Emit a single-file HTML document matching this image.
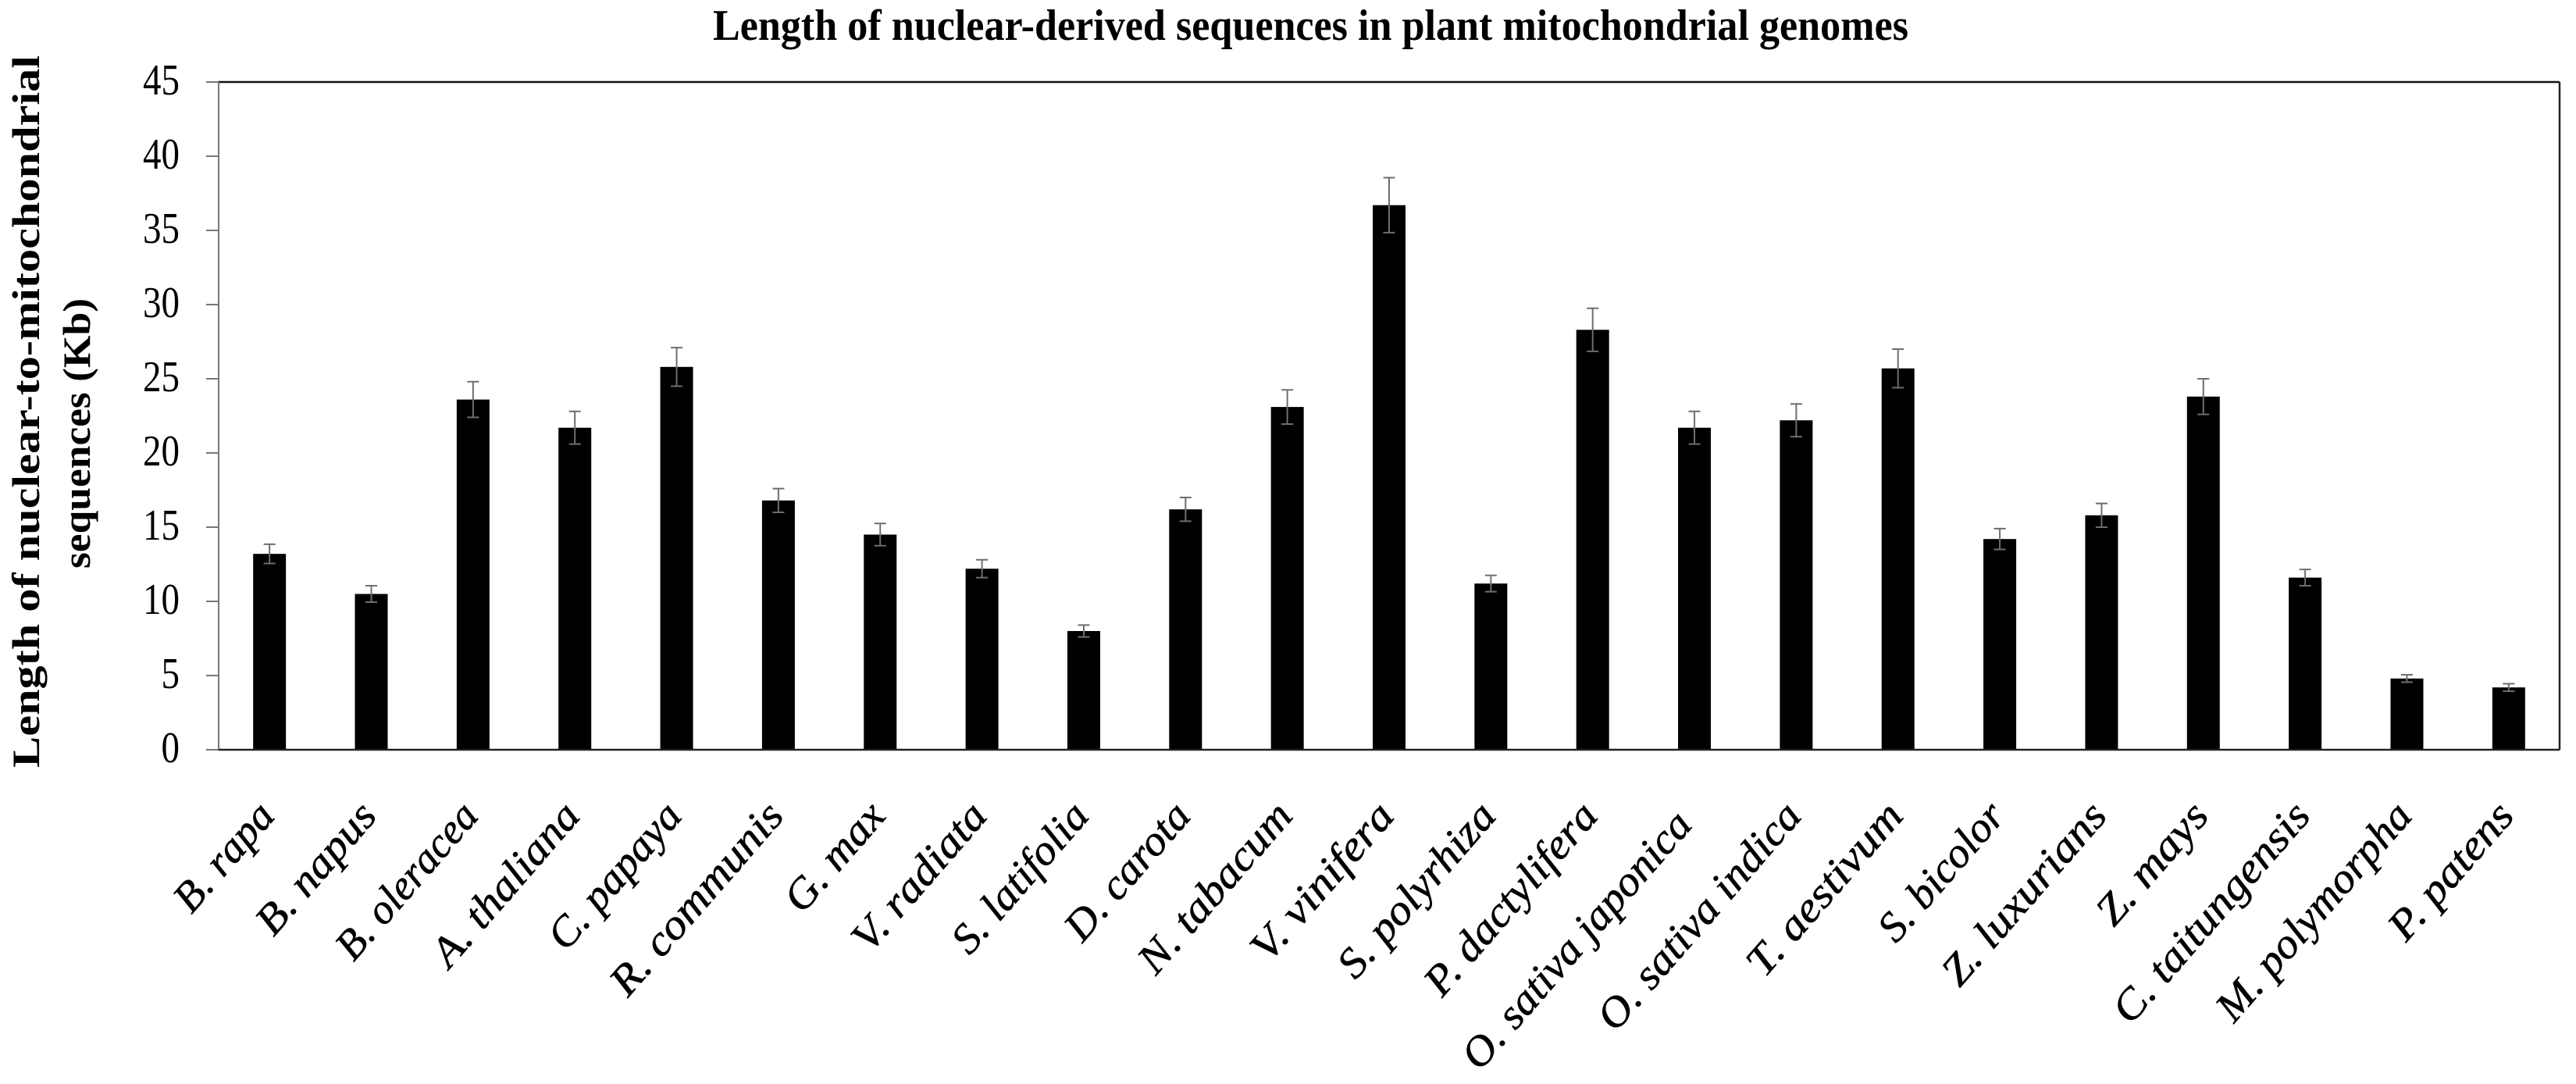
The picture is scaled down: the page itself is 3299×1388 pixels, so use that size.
<!DOCTYPE html>
<html lang="en">
<head>
<meta charset="utf-8">
<title>Length of nuclear-derived sequences in plant mitochondrial genomes</title>
<style>
html,body{margin:0;padding:0;background:#fff;width:3299px;height:1388px;overflow:hidden}
svg{display:block}
text{font-family:"Liberation Serif",serif;fill:#000}
</style>
</head>
<body>
<svg id="chart" xmlns="http://www.w3.org/2000/svg" width="3299" height="1388" viewBox="0 0 3299 1388">
<rect x="0" y="0" width="3299" height="1388" fill="#fff"/>
<text x="913" y="51" font-size="56" font-weight="bold" textLength="1531" lengthAdjust="spacingAndGlyphs">Length of nuclear-derived sequences in plant mitochondrial genomes</text>
<text transform="translate(50,983) rotate(-90)" font-size="50" font-weight="bold" textLength="912" lengthAdjust="spacingAndGlyphs">Length of nuclear-to-mitochondrial</text>
<text transform="translate(115,728) rotate(-90)" font-size="50" font-weight="bold" textLength="346" lengthAdjust="spacingAndGlyphs">sequences (Kb)</text>
<g id="ticks"></g>
<g id="bars"></g>
<g id="errors"></g>
<g id="xlabels"></g>
<g id="frame"></g>
</svg>
<script>
const categories = ["B. rapa","B. napus","B. oleracea","A. thaliana","C. papaya","R. communis","G. max","V. radiata","S. latifolia","D. carota","N. tabacum","V. vinifera","S. polyrhiza","P. dactylifera","O. sativa japonica","O. sativa indica","T. aestivum","S. bicolor","Z. luxurians","Z. mays","C. taitungensis","M. polymorpha","P. patens"];
const lengthKb = [13.2,10.5,23.6,21.7,25.8,16.8,14.5,12.2,8.0,16.2,23.1,36.7,11.2,28.3,21.7,22.2,25.7,14.2,15.8,23.8,11.6,4.8,4.2];
const errorKb = [0.65,0.55,1.2,1.1,1.3,0.8,0.75,0.6,0.4,0.8,1.15,1.85,0.55,1.45,1.1,1.1,1.3,0.7,0.8,1.2,0.55,0.25,0.25];
const yTicks = [0,5,10,15,20,25,30,35,40,45];

const NS = "http://www.w3.org/2000/svg";
const plotLeft = 280, plotRight = 3278, plotTop = 105, plotBottom = 960;
const yMax = 45;
const barWidth = 42;
/* advance widths approximating the reference's book-style italic, in 1/1000 em */
const glyphWidths = {A:722,B:611,C:667,D:778,G:722,M:833,N:778,O:778,P:611,R:667,S:556,T:611,V:722,Z:667,a:444,b:463,c:407,d:500,e:389,f:278,g:500,h:500,i:278,j:278,l:278,m:778,n:556,o:444,p:500,r:389,s:389,t:333,u:556,v:500,x:444,y:500,z:444,".":250," ":250};
function labelLength(s){
  let w = 0;
  for (const ch of s) w += glyphWidths[ch] || 450;
  return w * 57.5 / 1000;
}
function yScale(v){ return plotBottom - (v / yMax) * (plotBottom - plotTop); }
function xBand(){ return (plotRight - plotLeft) / categories.length; }
function xScale(i){ return plotLeft + xBand() * (i + 0.5); }
function make(tag, parentId, attrs){
  const el = document.createElementNS(NS, tag);
  for (const k in attrs) el.setAttribute(k, attrs[k]);
  document.getElementById(parentId).appendChild(el);
  return el;
}
yTicks.forEach(function(t){
  const y = yScale(t);
  const line = make("line", "ticks", {x1: plotLeft - 16, x2: plotLeft, y1: y, y2: y, stroke: "#777", "stroke-width": 2});
  
  
  const label = String(t);
  const txt = make("text", "ticks", {x: 230, y: y + 16, "text-anchor": "end", "font-size": 56, textLength: label.length * 23.5, lengthAdjust: "spacingAndGlyphs"});
  
  
  txt.textContent = label;
});
categories.forEach(function(name, i){
  const cx = xScale(i);
  const bar = make("rect", "bars", {x: cx - barWidth / 2, y: yScale(lengthKb[i]), width: barWidth, height: plotBottom - yScale(lengthKb[i]), fill: "#000"});
  
  
  const hi = yScale(lengthKb[i] + errorKb[i]);
  const lo = yScale(lengthKb[i] - errorKb[i]);
  const err = make("path", "errors", {d: "M" + cx + " " + hi + "V" + lo + "M" + (cx - 7.5) + " " + hi + "H" + (cx + 7.5) + "M" + (cx - 7.5) + " " + lo + "H" + (cx + 7.5), stroke: "#6e6e6e", "stroke-width": 2, fill: "none"});
  
  
  const len = labelLength(name);
  /* the longest label sits further down its slant so it stays on the canvas */
  const nudge = len > 400 ? 15 : 0;
  const lx = cx + 9 - nudge * 0.656, ly = 1046 + nudge * 0.755;
  const lab = make("text", "xlabels", {transform: "translate(" + lx + "," + ly + ") rotate(-49)", "text-anchor": "end", "font-size": 54, "font-style": "italic", stroke: "#000", "stroke-width": 0.6, textLength: len, lengthAdjust: "spacingAndGlyphs"});
  
  
  lab.textContent = name;
});
const frameTop = make("line", "frame", {x1: plotLeft, x2: plotRight, y1: plotTop, y2: plotTop, stroke: "#111", "stroke-width": 2.5});


const frameLeft = make("line", "frame", {x1: plotLeft, x2: plotLeft, y1: plotTop, y2: plotBottom, stroke: "#777", "stroke-width": 2});


const frameRight = make("line", "frame", {x1: plotRight, x2: plotRight, y1: plotTop, y2: plotBottom, stroke: "#222", "stroke-width": 2.5});


const frameBottom = make("line", "frame", {x1: plotLeft, x2: plotRight, y1: plotBottom, y2: plotBottom, stroke: "#222", "stroke-width": 2.5});


</script>
</body>
</html>
